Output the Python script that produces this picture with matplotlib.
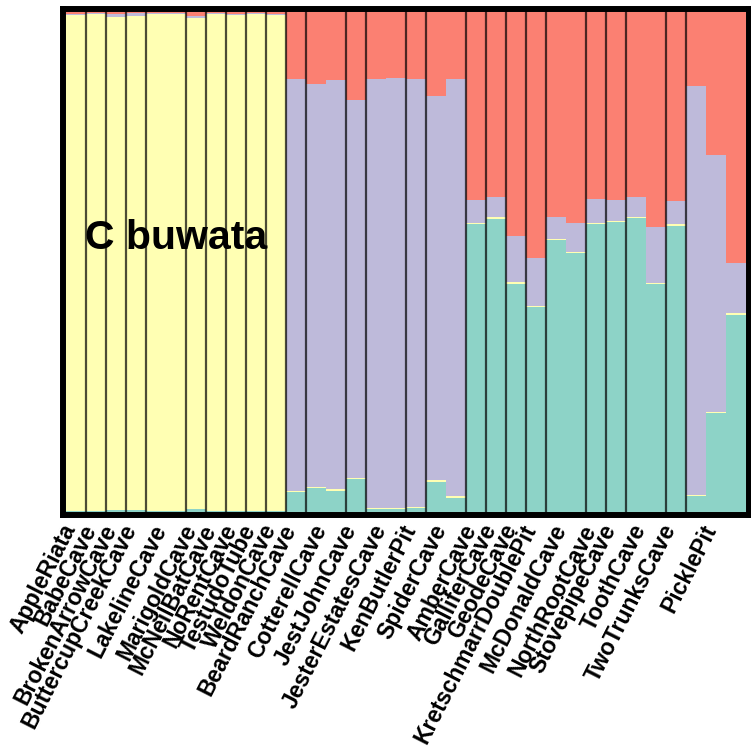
import matplotlib.pyplot as plt
import matplotlib.transforms as mtrans
import numpy as np

populations = ["AppleRiata", "BabeCave", "BrokenArrowCave", "ButtercupCreekCave", "LakelineCave",
               "MarigoldCave", "McNeilBatCave", "NoRentCave", "TestudoTube", "WeldonCave",
               "BeardRanchCave", "CotterellCave", "JestJohnCave", "JesterEstatesCave", "KenButlerPit",
               "SpiderCave", "AmberCave", "GalliferCave", "GeodeCave", "KretschmarrDoublePit",
               "McDonaldCave", "NorthRootCave", "StovepipeCave", "ToothCave", "TwoTrunksCave", "PicklePit"]
popSizes = [1, 1, 1, 1, 2, 1, 1, 1, 1, 1,
            1, 2, 1, 2, 1, 2,
            1, 1, 1, 1, 2, 1, 1, 2, 1, 3]

# ancestry proportions per individual, K=4
k1 = [0.002, 0.002, 0.004, 0.004, 0.002, 0.002, 0.006, 0.002, 0.002, 0.002, 0.002,
      0.041, 0.049, 0.043, 0.066, 0.007, 0.007, 0.009, 0.061, 0.029,
      0.576, 0.586, 0.456, 0.410, 0.544, 0.518, 0.576, 0.580, 0.588, 0.456, 0.572,
      0.032, 0.198, 0.394]
k2 = [0.993, 0.994, 0.986, 0.988, 0.994, 0.994, 0.982, 0.994, 0.993, 0.994, 0.993,
      0.002, 0.002, 0.003, 0.002, 0.002, 0.002, 0.002, 0.003, 0.003,
      0.003, 0.004, 0.004, 0.003, 0.003, 0.003, 0.003, 0.003, 0.003, 0.003, 0.005,
      0.002, 0.002, 0.004]
k3 = [0.002, 0.002, 0.007, 0.006, 0.002, 0.002, 0.004, 0.002, 0.002, 0.002, 0.002,
      0.824, 0.805, 0.818, 0.756, 0.858, 0.860, 0.856, 0.769, 0.835,
      0.045, 0.040, 0.093, 0.095, 0.043, 0.057, 0.047, 0.041, 0.039, 0.111, 0.045,
      0.818, 0.514, 0.100]
k4 = [0.003, 0.002, 0.003, 0.002, 0.002, 0.002, 0.008, 0.002, 0.003, 0.002, 0.003,
      0.133, 0.144, 0.136, 0.176, 0.133, 0.131, 0.133, 0.167, 0.133,
      0.376, 0.370, 0.447, 0.492, 0.410, 0.422, 0.374, 0.376, 0.370, 0.430, 0.378,
      0.148, 0.286, 0.502]

cols = ["#8DD3C7", "#FFFFB3", "#BEBADA", "#FB8072"]

fig = plt.figure(figsize=(7.51, 7.47), dpi=100)
ax = fig.add_axes([63/751, 232/747, 686/751, 506/747])

x = np.arange(len(k1))
bottom = np.zeros(len(k1))
for vals, c in zip([k1, k2, k3, k4], cols):
    ax.bar(x, vals, width=1, bottom=bottom, align="edge", color=c, linewidth=0)
    bottom += np.array(vals)

# population separators
edges = np.cumsum(popSizes)
for e in edges[:-1]:
    ax.axvline(e, color="black", lw=1.6, alpha=0.7)

mids = edges - np.array(popSizes) / 2
ax.set_xticks(mids)
ax.set_xticklabels(populations, rotation=63, ha="right", fontsize=16.5,
                   fontweight="bold", family="Liberation Sans")
ax.tick_params(axis="x", length=0, pad=4)
ax.set_yticks([])
# nudge labels a little to the right
shift = mtrans.ScaledTranslation(0.05, 0, fig.dpi_scale_trans)
for lab in ax.get_xticklabels():
    lab.set_transform(lab.get_transform() + shift)

ax.text(0.95, 0.526, "C buwata", fontsize=29.5, fontweight="bold",
        family="Liberation Sans", ha="left", va="baseline")

ax.set_xlim(-0.15, 34.15)
ax.set_ylim(-0.006, 1.006)
for s in ax.spines.values():
    s.set_linewidth(4.3)

plt.savefig("out.png", dpi=100)
